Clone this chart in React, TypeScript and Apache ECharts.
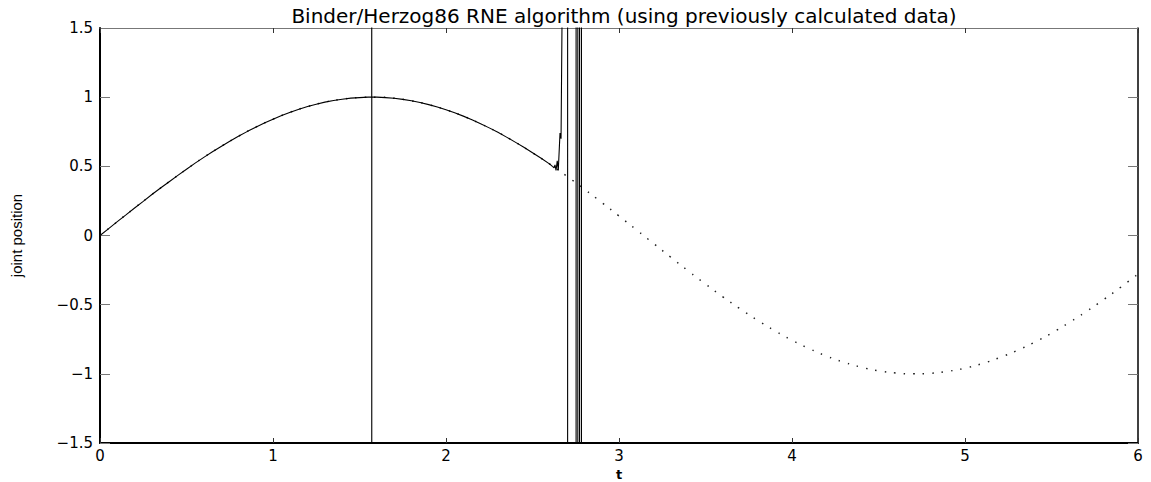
import React, { useEffect, useRef } from "react";
import * as echarts from "echarts";

const titleText = "Binder/Herzog86 RNE algorithm (using previously calculated data)";
const xName = "t";
const yName = "joint position";

// reference trajectory (dotted)
const tRef = [
  0, 0.1, 0.2, 0.3, 0.4, 0.5, 0.6, 0.7, 0.8, 0.9,
  1.0, 1.1, 1.2, 1.3, 1.4, 1.5, 1.6, 1.7, 1.8, 1.9,
  2.0, 2.1, 2.2, 2.3, 2.4, 2.5, 2.6, 2.7, 2.8, 2.9,
  3.0, 3.1, 3.2, 3.3, 3.4, 3.5, 3.6, 3.7, 3.8, 3.9,
  4.0, 4.1, 4.2, 4.3, 4.4, 4.5, 4.6, 4.7, 4.8, 4.9,
  5.0, 5.1, 5.2, 5.3, 5.4, 5.5, 5.6, 5.7, 5.8, 5.9, 6.0,
];
const yRef = [
  0.0, 0.1, 0.199, 0.296, 0.389, 0.479, 0.565, 0.644, 0.717, 0.783,
  0.841, 0.891, 0.932, 0.964, 0.985, 0.997, 1.0, 0.992, 0.974, 0.946,
  0.909, 0.863, 0.808, 0.746, 0.675, 0.598, 0.516, 0.427, 0.335, 0.239,
  0.141, 0.042, -0.058, -0.158, -0.256, -0.351, -0.443, -0.53, -0.612, -0.688,
  -0.757, -0.818, -0.872, -0.916, -0.952, -0.978, -0.994, -1.0, -0.996, -0.982,
  -0.959, -0.926, -0.883, -0.832, -0.773, -0.706, -0.631, -0.551, -0.465, -0.374, -0.279,
];

// computed trajectory (solid), diverging near t = 2.65
const tCalc = [
  0, 0.05, 0.1, 0.15, 0.2, 0.25, 0.3, 0.35, 0.4, 0.45,
  0.5, 0.55, 0.6, 0.65, 0.7, 0.75, 0.8, 0.85, 0.9, 0.95,
  1.0, 1.05, 1.1, 1.15, 1.2, 1.25, 1.3, 1.35, 1.4, 1.45,
  1.5, 1.55, 1.5706, 1.5707, 1.5709, 1.571,
  1.6, 1.65, 1.7, 1.75, 1.8, 1.85, 1.9, 1.95,
  2.0, 2.05, 2.1, 2.15, 2.2, 2.25, 2.3, 2.35, 2.4, 2.45,
  2.5, 2.55, 2.6, 2.615, 2.625, 2.63, 2.636, 2.643, 2.649, 2.659,
  2.665, 2.671, 2.672,
  2.703, 2.703, 2.752, 2.752, 2.762, 2.762, 2.772, 2.772, 2.783, 2.783,
];
const yCalc = [
  0.0, 0.05, 0.1, 0.149, 0.199, 0.247, 0.296, 0.343, 0.389, 0.435,
  0.479, 0.523, 0.565, 0.605, 0.644, 0.682, 0.717, 0.751, 0.783, 0.813,
  0.841, 0.867, 0.891, 0.913, 0.932, 0.949, 0.964, 0.976, 0.985, 0.993,
  0.997, 1.0, 1.0, 40, -40, 1.0,
  1.0, 0.997, 0.992, 0.984, 0.974, 0.961, 0.946, 0.929,
  0.909, 0.887, 0.863, 0.837, 0.808, 0.778, 0.746, 0.711, 0.675, 0.638,
  0.598, 0.558, 0.516, 0.5, 0.49, 0.51, 0.47, 0.54, 0.47, 0.74,
  0.7, 1.6, 40,
  40, -40, -40, 40, 40, -40, -40, 40, 40, -40,
];

const xTicks = [0, 1, 2, 3, 4, 5, 6];
const yTicks = [-1.5, -1, -0.5, 0, 0.5, 1, 1.5];

const fmtY = (v: number) => (v < 0 ? "\u2212" + String(Math.abs(v)) : String(v));

export default function App() {
  const ref = useRef<HTMLDivElement>(null);
  useEffect(() => {
    document.body.style.margin = "0";
    const chart = echarts.init(ref.current!, null, { renderer: "svg" });
    const tickFont = { fontFamily: "DejaVu Sans", fontSize: 15, color: "#000" };
    const commonX = {
      type: "value" as const,
      min: xTicks[0],
      max: xTicks[xTicks.length - 1],
      interval: 1,
      splitLine: { show: false },
    };
    const commonY = {
      type: "value" as const,
      min: yTicks[0],
      max: yTicks[yTicks.length - 1],
      interval: 0.5,
      splitLine: { show: false },
    };
    chart.setOption({
      animation: false,
      backgroundColor: "#fff",
      title: {
        text: titleText,
        left: 619,
        top: 1,
        textAlign: "center",
        textStyle: { fontFamily: "DejaVu Sans", fontSize: 20, fontWeight: "normal", color: "#000" },
      },
      grid: { left: 100, right: 13, top: 28, bottom: 39, containLabel: false, outerBoundsMode: "none" },
      xAxis: [
        {
          ...commonX,
          position: "bottom",
          name: xName,
          nameLocation: "middle",
          nameGap: 18,
          nameTextStyle: { fontFamily: "DejaVu Sans", fontSize: 13, fontWeight: "bold", color: "#000" },
          axisLine: { show: true, onZero: false, lineStyle: { color: "#000", width: 2 } },
          axisTick: { inside: true, length: 5, lineStyle: { color: "#333", width: 1 } },
          axisLabel: { ...tickFont, margin: 5, formatter: (v: number) => String(v) },
        },
        {
          ...commonX,
          position: "top",
          axisLine: { show: true, onZero: false, lineStyle: { color: "#777", width: 1 } },
          axisTick: { inside: true, length: 5, lineStyle: { color: "#333", width: 1 } },
          axisLabel: { show: false },
        },
      ],
      yAxis: [
        {
          ...commonY,
          position: "left",
          name: yName,
          nameLocation: "middle",
          nameGap: 76,
          nameTextStyle: { fontFamily: "Liberation Sans", fontSize: 15, color: "#000" },
          axisLine: { show: true, onZero: false, lineStyle: { color: "#000", width: 2 } },
          axisTick: { inside: true, length: 10, lineStyle: { color: "#777", width: 1 } },
          axisLabel: { ...tickFont, margin: 7, formatter: fmtY },
        },
        {
          ...commonY,
          position: "right",
          axisLine: { show: true, onZero: false, lineStyle: { color: "#000", width: 1.5 } },
          axisTick: { inside: true, length: 10, lineStyle: { color: "#777", width: 1 } },
          axisLabel: { show: false },
        },
      ],
      series: [
        {
          type: "line",
          data: tRef.map((t, i) => [t, yRef[i]]),
          showSymbol: false,
          symbol: "none",
          smooth: true,
          clip: true,
          lineStyle: { color: "#222", width: 1.5, type: [1.5, 8], cap: "butt" },
        },
        {
          type: "line",
          data: tCalc.map((t, i) => [t, yCalc[i]]),
          showSymbol: false,
          symbol: "none",
          clip: true,
          lineStyle: { color: "#000", width: 1.1 },
        },
      ],
    });
    return () => chart.dispose();
  }, []);
  return <div ref={ref} style={{ width: 1151, height: 482 }} />;
}
